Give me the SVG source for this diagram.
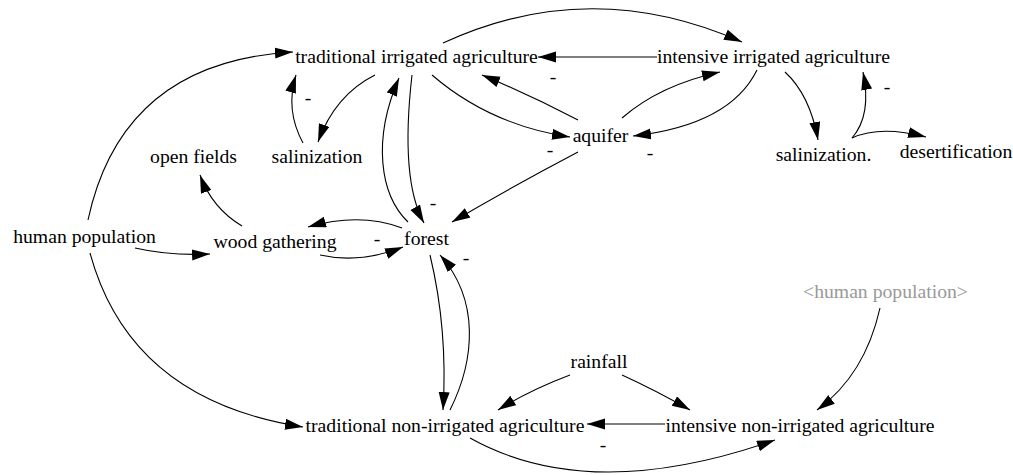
<svg xmlns="http://www.w3.org/2000/svg" width="1013" height="475" viewBox="0 0 1013 475">
<style>
text{font-family:"Liberation Serif","Times New Roman",serif;font-size:19.7px;fill:#000;text-anchor:middle}
.shadow{fill:#999}
.c path{fill:none;stroke:#000;stroke-width:1.1;marker-end:url(#ah)}
</style>
<defs>
<marker id="ah" markerUnits="userSpaceOnUse" markerWidth="19" markerHeight="12" refX="18" refY="5.5" orient="auto">
<path d="M0,0 L18,5.5 L0,11 z" fill="#000"/>
</marker>
</defs>
<rect width="1013" height="475" fill="#fff"/>
<g class="c" id="connectors">
<path d="M88,220 Q122,62 293,52"/>
<path d="M90,253 Q130,400 303,427"/>
<path d="M135,248 Q170,256 210,254"/>
<path d="M242,226 Q212,208 200,175"/>
<path d="M402,228 Q360,212 308,227"/>
<path d="M320,255 Q360,264 403,247"/>
<path d="M412,75 Q400,180 424,223"/>
<path d="M408,222 C380,195 372,140 399,78"/>
<path d="M375,75 Q335,95 318,142"/>
<path d="M303,143 Q285,110 296,75"/>
<path d="M432,75 Q490,125 570,137"/>
<path d="M578,120 Q530,95 482,75"/>
<path d="M657,57 L538,57"/>
<path d="M443,43 Q590,-25 742,42"/>
<path d="M622,118 Q660,85 720,72"/>
<path d="M757,70 Q730,125 633,136"/>
<path d="M578,152 Q515,185 452,222"/>
<path d="M785,72 Q810,95 818,140"/>
<path d="M852,138 Q872,115 863,72"/>
<path d="M852,138 Q880,125 926,137"/>
<path d="M430,255 Q448,330 443,410"/>
<path d="M450,410 C475,360 480,300 440,255"/>
<path d="M570,375 Q530,390 498,410"/>
<path d="M622,375 Q655,390 690,410"/>
<path d="M665,424 L587,424"/>
<path d="M470,438 Q590,505 775,440"/>
<path d="M880,308 Q865,375 817,410"/>
</g>
<g id="polarities">
<text x="553" y="83">-</text>
<text x="308" y="104">-</text>
<text x="550" y="156">-</text>
<text x="650" y="159">-</text>
<text x="887" y="93">-</text>
<text x="433" y="209">-</text>
<text x="377" y="245">-</text>
<text x="466" y="264">-</text>
<text x="603" y="451">-</text>
</g>
<g id="n-tia"><text x="416.5" y="63">traditional irrigated agriculture</text></g>
<g id="n-iia"><text x="773.5" y="63">intensive irrigated agriculture</text></g>
<g id="n-aquifer"><text x="600.5" y="142">aquifer</text></g>
<g id="n-salinization"><text x="317" y="163">salinization</text></g>
<g id="n-openfields"><text x="193.5" y="163">open fields</text></g>
<g id="n-humanpop"><text x="84.5" y="243">human population</text></g>
<g id="n-wood"><text x="275" y="248">wood gathering</text></g>
<g id="n-forest"><text x="426.5" y="245">forest</text></g>
<g id="n-salinization2"><text x="823.5" y="161">salinization.</text></g>
<g id="n-desert"><text x="956" y="158">desertification</text></g>
<g id="n-humanpop-shadow"><text class="shadow" x="885.5" y="298">&lt;human population&gt;</text></g>
<g id="n-rainfall"><text x="599" y="368">rainfall</text></g>
<g id="n-tnia"><text x="445" y="432">traditional non-irrigated agriculture</text></g>
<g id="n-inia"><text x="800" y="432">intensive non-irrigated agriculture</text></g>
</svg>
